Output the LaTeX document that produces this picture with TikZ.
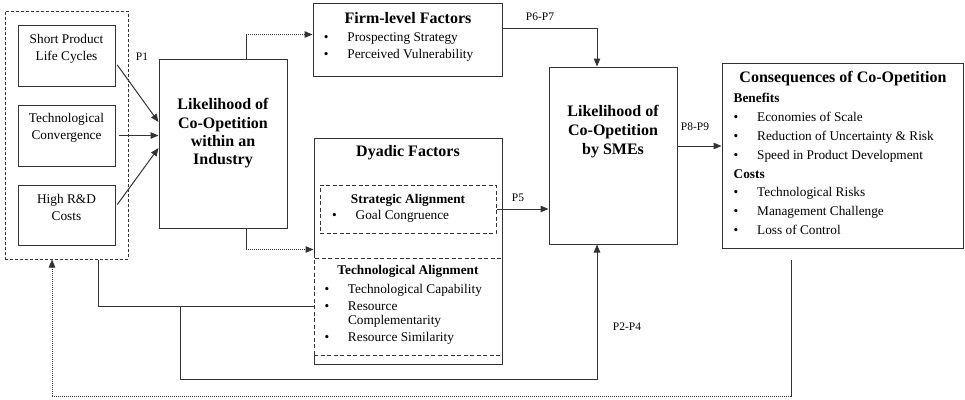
\documentclass[tikz,border=0pt]{standalone}
\usepackage{fontspec}
\setmainfont{Liberation Serif}
\usetikzlibrary{arrows.meta, positioning, fit}

\newcommand\bitem{\makebox[23.5pt][l]{\textbullet}}

\begin{document}
\begin{tikzpicture}[x=1pt, y=-1pt, >={Triangle[length=8pt,width=6.5pt]},
    every node/.style={inner sep=0pt},
    every fit/.style={draw=black!80, line width=1pt, dash pattern=on 3pt off 2pt},
    srcbox/.style={draw=black!80, line width=1pt, minimum width=97pt, minimum height=61pt},
    bigbox/.style={draw=black!80, line width=1pt, minimum width=128pt},
    factbox/.style={draw=black!80, line width=1pt, minimum width=188pt},
    subbox/.style={draw=black!80, line width=1pt, fill=white, dash pattern=on 4pt off 2.5pt},
    ttl/.style={font=\fontsize{16}{18.3}\selectfont\bfseries, align=center},
    subttl/.style={font=\fontsize{13.3}{15}\selectfont\bfseries},
    txt/.style={font=\fontsize{13.3}{17}\selectfont, align=center},
    lst/.style={font=\fontsize{13.3}{14.4}\selectfont, align=left, anchor=north west},
    plab/.style={font=\fontsize{11.5}{13}\selectfont},
    conn/.style={draw=black!80, line width=1pt},
    dots/.style={conn, densely dotted}]
  \useasboundingbox (0,0) rectangle (965,399);

  % drivers
  \node[srcbox] (spl) at (66.5,55.5) {};
  \node[srcbox, below=18pt of spl] (tc) {};
  \node[srcbox, below=18pt of tc, minimum height=60pt] (hrd) {};
  \node[txt, yshift=7pt] (spl-t) at (spl) {Short Product\\Life Cycles};
  \node[txt, yshift=7.5pt] (tc-t) at (tc) {Technological\\Convergence};
  \node[txt, yshift=7.5pt] (hrd-t) at (hrd) {High R\&D\\Costs};
  \node[fit=(spl) (tc) (hrd), inner xsep=12.5pt, inner ysep=13.5pt] (src) {};

  % industry
  \node[bigbox, minimum height=169pt] (ind) at (223,143.5) {};
  \node[ttl, yshift=10pt] (ind-t) at (ind) {Likelihood of\\Co-Opetition\\within an\\Industry};

  % firm-level
  \node[factbox, minimum width=189pt, minimum height=73pt] (firm) at (407.5,39.5) {};
  \node[ttl] (firm-t) at (408,18.5) {Firm-level Factors};
  \node[lst] (firm-l) at (323.7,32.5) {\bitem Prospecting Strategy\\[2.6pt]\bitem Perceived Vulnerability};

  % dyadic
  \node[factbox, minimum height=226pt] (dyad) at (408,251) {};
  \node[ttl] (dyad-t) at (408,153) {Dyadic Factors};
  \node[subbox, minimum width=176pt, minimum height=48pt] (sa) at (408,209) {};
  \node[subttl] (sa-t) at (408,200) {Strategic Alignment};
  \node[lst] (sa-l) at (332,210.3) {\bitem Goal Congruence};
  \node[subbox, minimum width=188pt, minimum height=97pt] (ta) at (408,306.5) {};
  \node[subttl] (ta-t) at (408,271) {Technological Alignment};
  \node[lst] (ta-l) at (324.3,283.6) {\bitem Technological Capability\\[2.8pt]
    \bitem Resource\\ \hspace*{23.5pt}Complementarity\\[2.8pt]
    \bitem Resource Similarity};

  % SMEs
  \node[bigbox, minimum height=177pt] (sme) at (613,155.5) {};
  \node[ttl, font=\fontsize{16}{19}\selectfont\bfseries, yshift=23.5pt] (sme-t) at (sme) {Likelihood of\\Co-Opetition\\by SMEs};

  % consequences
  \node[bigbox, minimum width=241pt, minimum height=185pt] (cons) at (842.5,155.5) {};
  \node[ttl] (cons-t) at (843,79) {Consequences of Co-Opetition};
  \node[lst, font=\fontsize{13.3}{18.8}\selectfont] (cons-l) at (733.5,93.3) {\textbf{Benefits}\\
    \bitem Economies of Scale\\
    \bitem Reduction of Uncertainty \& Risk\\
    \bitem Speed in Product Development\\
    \textbf{Costs}\\
    \bitem Technological Risks\\
    \bitem Management Challenge\\
    \bitem Loss of Control};

  % connectors
  \draw[conn, ->, shorten <=3pt] ([yshift=-7pt]spl.east) -- ([yshift=21.5pt]ind.west);
  \draw[conn, ->, shorten <=3pt] (tc.east) -- (tc.east -| ind.west);
  \draw[conn, ->, shorten <=3pt] ([yshift=8pt]hrd.east) -- ([yshift=-4.5pt]ind.west);
  \node[plab] (p1) at (142,57) {P1};

  \draw[conn] ([xshift=23pt]ind.north) -- ++(0,-24) coordinate (up);
  \draw[dots, ->] (up) -- (up -| firm.west);
  \draw[conn] ([xshift=23pt]ind.south) -- ++(0,21) coordinate (dn);
  \draw[dots, ->] (dn) -- (dn -| dyad.west);

  \draw[conn, ->] ([yshift=11.5pt]firm.east) -| ([xshift=-16pt]sme.north);
  \node[plab] (p67) at (540,17) {P6-P7};
  \draw[conn, ->] (sa.east) -- (sa.east -| sme.west);
  \node[plab] (p5) at (518,198) {P5};
  \draw[conn, ->] ([yshift=9.5pt]sme.east) -- ([yshift=9.5pt]cons.west);
  \node[plab] (p89) at (695,127) {P8-P9};

  \draw[conn] ([xshift=31.5pt]src.south) |- (ta.west);
  \coordinate (split) at (180,306.5);
  \draw[conn, ->] (split) -- ++(0,72.5) -| ([xshift=-16pt]sme.south);
  \node[plab] (p24) at (627,327) {P2-P4};

  % feedback
  \draw[conn] ([xshift=-51.5pt,yshift=-11pt]cons.south) -- ++(0,137) coordinate (fb);
  \draw[dots, ->] (fb) -| ([xshift=-14.5pt]src.south);
\end{tikzpicture}
\end{document}
